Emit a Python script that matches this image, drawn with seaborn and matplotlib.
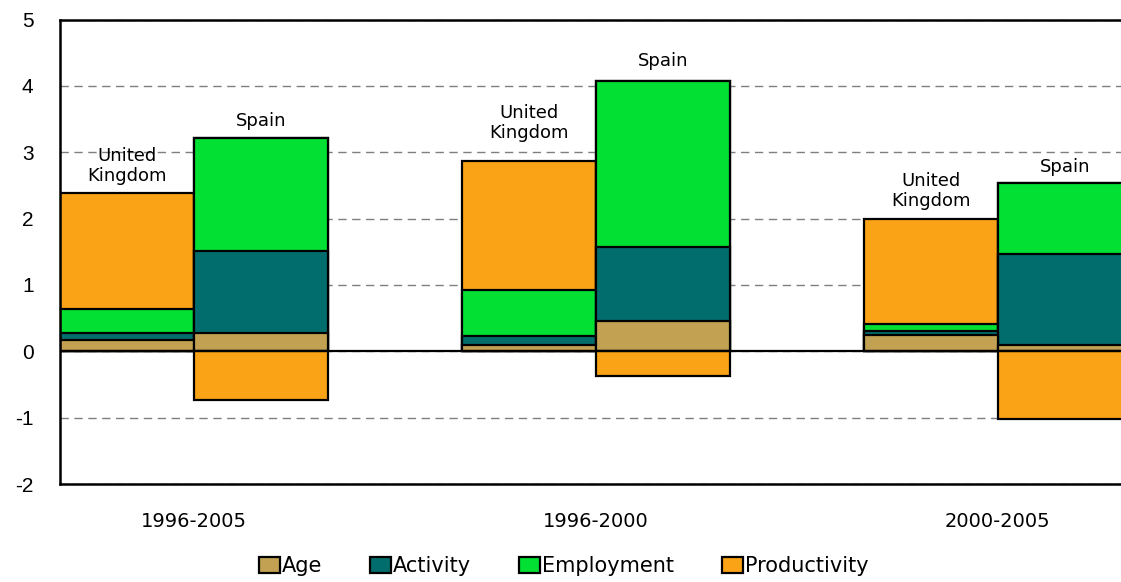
import numpy as np
import pandas as pd
import matplotlib
matplotlib.use('Agg')
import matplotlib.pyplot as plt
import seaborn as sns
from matplotlib.patches import Patch

# Data
periods = ['1996-2005', '1996-2000', '2000-2005']
countries = ['United\nKingdom', 'Spain']
components = ['Age', 'Activity', 'Employment', 'Productivity']

# one value per bar: UK 96-05, ES 96-05, UK 96-00, ES 96-00, UK 00-05, ES 00-05
age = [0.17, 0.27, 0.09, 0.46, 0.24, 0.09]
activity = [0.10, 1.24, 0.14, 1.11, 0.06, 1.37]
employment = [0.36, 1.71, 0.70, 2.51, 0.11, 1.07]
productivity = [1.76, -0.73, 1.94, -0.37, 1.59, -1.02]

colors = {'Age': '#C2A252', 'Activity': '#016E6D',
          'Employment': '#02E034', 'Productivity': '#FAA316'}

# slots: two bars per period plus an empty slot between periods
bar_slots = ['UK1', 'ES1', 'UK2', 'ES2', 'UK3', 'ES3']
order = ['UK1', 'ES1', 'g1', 'UK2', 'ES2', 'g2', 'UK3', 'ES3']

values = pd.DataFrame({'slot': bar_slots, 'Age': age, 'Activity': activity,
                       'Employment': employment, 'Productivity': productivity})

# cumulative tops of the positive stack, negatives stacked separately
pos = values[components].clip(lower=0).cumsum(axis=1)
neg = values[components].clip(upper=0).cumsum(axis=1)

sns.set_theme(style='white')
plt.rcParams['font.family'] = ['DejaVu Sans']
plt.rcParams['text.color'] = 'black'
plt.rcParams['xtick.color'] = 'black'
plt.rcParams['ytick.color'] = 'black'

fig = plt.figure(figsize=(11.21, 5.82), dpi=100)
ax = fig.add_axes([60 / 1121, 1 - 484 / 582, 1 - 60 / 1121, (484 - 19.5) / 582])

# draw from the top layer down so lower layers overlap upper ones
for comp in components[::-1]:
    df = pd.DataFrame({'slot': bar_slots, 'val': pos[comp]})
    sns.barplot(data=df, x='slot', y='val', order=order, color=colors[comp],
                saturation=1, width=1, edgecolor='black', linewidth=1.6,
                errorbar=None, ax=ax)
for comp in components[::-1]:
    df = pd.DataFrame({'slot': bar_slots, 'val': neg[comp]})
    df = df[df['val'] < 0]
    if len(df):
        sns.barplot(data=df, x='slot', y='val', order=order, color=colors[comp],
                    saturation=1, width=1, edgecolor='black', linewidth=1.6,
                    errorbar=None, ax=ax)

ax.set_xlim(-0.5, 7.42)
ax.set_ylim(-2, 5)
ax.set_yticks(range(-2, 6))
ax.set_yticklabels([str(v) for v in range(-2, 6)], fontsize=15,
                   family='Liberation Sans')
ax.set_xticks([0.5, 3.5, 6.5])
ax.set_xticklabels(periods, fontsize=14)
ax.tick_params(axis='both', length=0)
ax.tick_params(axis='y', pad=19)
ax.tick_params(axis='x', pad=20)
ax.set_xlabel('')
ax.set_ylabel('')

ax.set_axisbelow(True)
ax.yaxis.grid(True, color='#7f7f7f', linestyle=(0, (6, 4)), linewidth=1.0)
ax.axhline(0, color='black', linewidth=1.6, zorder=1.5)

for side in ['left', 'top', 'bottom']:
    ax.spines[side].set_color('black')
    ax.spines[side].set_linewidth(1.8)
ax.spines['right'].set_visible(False)

# country labels over each bar
label_offsets = [19, 12, 27, 14, 20, 12]
for i, slot in enumerate(bar_slots):
    x = order.index(slot)
    top = pos['Productivity'].iloc[i]
    name = countries[i % 2]
    ax.annotate(name, xy=(x, top), xytext=(0, label_offsets[i]),
                textcoords='offset points', ha='center', va='center',
                fontsize=13, linespacing=1.15)

handles = [Patch(facecolor=colors[c], edgecolor='black', linewidth=1.6)
           for c in components]
fig.legend(handles, components, loc='lower center', ncol=4,
           bbox_to_anchor=(0.503, -0.022), frameon=False,
           prop={'family': ['Liberation Sans Narrow', 'DejaVu Sans'], 'size': 15},
           handlelength=1.0, handleheight=0.8, handletextpad=0.1,
           columnspacing=2.3)

fig.savefig('out.png', dpi=100)
